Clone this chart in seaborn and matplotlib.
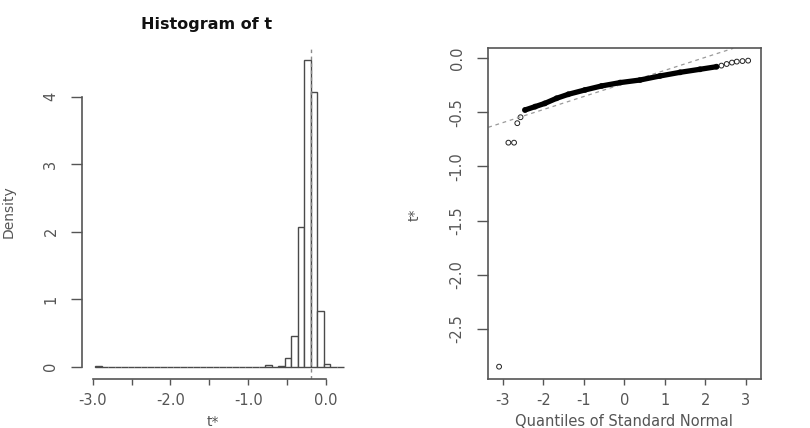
import numpy as np
import pandas as pd
import matplotlib
matplotlib.use("Agg")
import matplotlib.pyplot as plt
import seaborn as sns

# ---------------- data ----------------
# histogram of bootstrap replicates t*: equal-width bins, density per non-empty bin
bin_start = -2.969
bin_width = 0.084
n_bins = 38
hist_centers = [-2.927, -0.743, -0.575, -0.491, -0.407, -0.323, -0.239, -0.155, -0.071, 0.013]
hist_density = [0.012, 0.025, 0.015, 0.13, 0.46, 2.07, 4.54, 4.07, 0.82, 0.04]
t0 = -0.197

# normal QQ plot: theoretical quantiles vs sorted t*
band_q = [-2.45, -2.20, -1.96, -1.67, -1.38, -0.97, -0.56, -0.10, 0.39, 0.88, 1.38, 1.87, 2.28]
band_y = [-0.478, -0.447, -0.417, -0.370, -0.333, -0.293, -0.256, -0.225, -0.201, -0.164, -0.130, -0.102, -0.078]
tail_q = [-3.09, -2.86, -2.72, -2.64, -2.56, 2.40, 2.53, 2.66, 2.78, 2.92, 3.06]
tail_y = [-2.85, -0.78, -0.78, -0.60, -0.545, -0.068, -0.053, -0.040, -0.031, -0.026, -0.022]
t_mean = -0.233
t_sd = 0.1207

hist_ticks = [-3.0, -2.5, -2.0, -1.5, -1.0, -0.5, 0.0]
hist_ticklabels = ["-3.0", "", "-2.0", "", "-1.0", "", "0.0"]
dens_ticks = [0, 1, 2, 3, 4]
qq_xticks = [-3, -2, -1, 0, 1, 2, 3]
qq_yticks = [0.0, -0.5, -1.0, -1.5, -2.0, -2.5]

# ---------------- style ----------------
sns.set_style("white")
plt.rcParams["font.family"] = ["DejaVu Sans"]
plt.rcParams["axes.unicode_minus"] = False

W, H = 810, 428
fig = plt.figure(figsize=(W / 100, H / 100), dpi=100)

def box(l, t, r, b):
    return [l / W, 1 - b / H, (r - l) / W, (b - t) / H]

axc = "#555555"
txtc = "#555555"

# ---------------- left: histogram ----------------
ax1 = fig.add_axes(box(82, 48, 355, 379))
edges = [float(bin_start + bin_width * k) for k in range(n_bins + 1)]
hist_df = pd.DataFrame({"t": hist_centers, "w": hist_density})
sns.histplot(data=hist_df, x="t", weights="w", bins=edges, stat="count",
             color="white", edgecolor="#4a4a4a", linewidth=1.0, alpha=1, ax=ax1)
ax1.axvline(t0, ls=(0, (2.5, 2.5)), color="#8a8a8a", lw=1.0)
ax1.set_xlim(-3.136, 0.37)
ax1.set_ylim(-0.182, 4.72)
for s in ["top", "right"]:
    ax1.spines[s].set_visible(False)
ax1.spines["left"].set_bounds(0, 4)
ax1.spines["bottom"].set_bounds(-3, 0)
for s in ["left", "bottom"]:
    ax1.spines[s].set_color(axc)
    ax1.spines[s].set_linewidth(1.2)
ax1.set_xticks(hist_ticks)
ax1.set_xticklabels(hist_ticklabels)
ax1.set_yticks(dens_ticks)
ax1.set_yticklabels([str(v) for v in dens_ticks], rotation=90, va="center")
ax1.tick_params(axis="x", length=4, width=1, color=axc, pad=6, labelsize=10.5, labelcolor=txtc, bottom=True)
ax1.tick_params(axis="y", length=8, width=1, color=axc, pad=9, labelsize=10.5, labelcolor=txtc, left=True)
ax1.set_xlabel("")
ax1.set_ylabel("")

fig.text(207 / W, 1 - 25 / H, "Histogram of t", ha="center", va="center",
         fontsize=11.5, fontweight="bold", color="#111111")
fig.text(9 / W, 1 - 212 / H, "Density", ha="center", va="center", rotation=90,
         fontsize=10, color=txtc)
fig.text(213 / W, 1 - 422 / H, "t*", ha="center", va="center", fontsize=10, color=txtc)

# ---------------- right: normal QQ plot ----------------
ax2 = fig.add_axes(box(488.3, 48.3, 760.7, 379))
ax2.axline((0, t_mean), slope=t_sd, ls=(0, (3, 3)), color="#9a9a9a", lw=0.9)
sns.lineplot(x=band_q, y=band_y, color="black", lw=3.8, sort=False, ax=ax2)
sns.scatterplot(x=band_q + tail_q, y=band_y + tail_y, marker="o", s=12,
                facecolors="none", edgecolors="#222222", linewidths=0.7, ax=ax2)
ax2.set_xlim(-3.356, 3.37)
ax2.set_ylim(-2.964, 0.092)
for s in ax2.spines.values():
    s.set_visible(True)
    s.set_color(axc)
    s.set_linewidth(1.2)
ax2.set_xticks(qq_xticks)
ax2.set_xticklabels([str(v) for v in qq_xticks])
ax2.set_yticks(qq_yticks)
ax2.set_yticklabels([f"{v:.1f}" for v in qq_yticks], rotation=90, va="center")
ax2.tick_params(axis="x", length=4, width=1, color=axc, pad=6, labelsize=10.5, labelcolor=txtc, bottom=True)
ax2.tick_params(axis="y", length=8, width=1, color=axc, pad=9, labelsize=10.5, labelcolor=txtc, left=True)
ax2.set_xlabel("")
ax2.set_ylabel("")
fig.text(415 / W, 1 - 215 / H, "t*", ha="center", va="center", rotation=90,
         fontsize=10, color=txtc)
fig.text(624 / W, 1 - 422 / H, "Quantiles of Standard Normal", ha="center", va="center",
         fontsize=10.5, color=txtc)

fig.savefig("out.png", dpi=100)
